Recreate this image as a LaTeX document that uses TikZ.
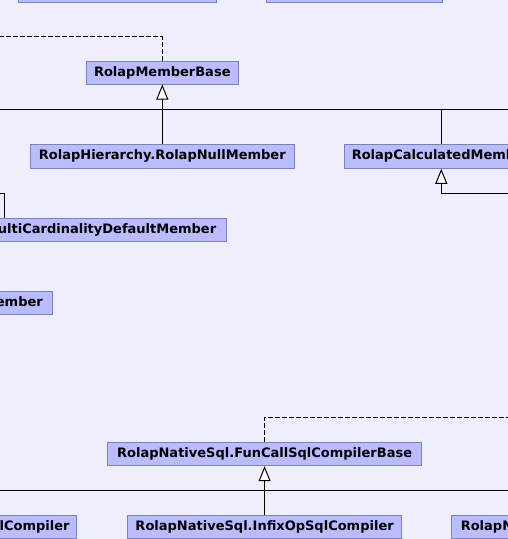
\documentclass[tikz,border=0pt]{standalone}
\usepackage{fontspec}
\setmainfont{DejaVu Sans}
\usetikzlibrary{arrows.meta}
\definecolor{bgc}{RGB}{238,238,252}
\definecolor{boxfill}{RGB}{187,187,255}
\definecolor{boxline}{RGB}{128,128,184}
\begin{document}
\begin{tikzpicture}[x=1pt,y=-1pt,
  cls/.style={draw=boxline, fill=boxfill, line width=1pt, minimum height=23.4pt, inner ysep=0pt,
    font=\fontsize{13}{15}\selectfont\bfseries, text=black},
  inh/.style={-{Triangle[length=15pt,width=12pt,fill=white]}, line width=1pt},
  dep/.style={dash pattern=on 5pt off 2pt, line width=1pt},
  conn/.style={line width=1pt}]
\useasboundingbox (0,0) rectangle (508,539);
\clip (0,0) rectangle (508,539);
\fill[bgc] (0,0) rectangle (508,539);

% top boxes (cut off)
\node[cls, minimum width=198.4pt, minimum height=22.3pt] (top1) at (117.5,-8.85) {};
\node[cls, minimum width=176pt, minimum height=22.3pt] (top2) at (354.7,-8.85) {};

\node[cls, minimum width=152pt, minimum height=23pt] (base) at (162.3,72.5) {RolapMemberBase};
\node[cls, minimum width=264.4pt, minimum height=24pt] (null) at (162.3,156.3) {RolapHierarchy.RolapNullMember};
\node[cls, anchor=west, inner xsep=7.3pt, minimum height=24pt] (calc) at (344,156.3) {RolapCalculatedMember};
\node[cls, anchor=east, inner xsep=10.6pt, minimum height=23pt] (multi) at (227.3,229.8) {MultiCardinalityDefaultMember};
\node[cls, anchor=east, inner xsep=9.4pt, minimum height=23pt] (deleg) at (52.7,302.8) {DelegatingRolapMember};

\node[cls, minimum width=313.4pt] (funcall) at (264.6,454) {RolapNativeSql.FunCallSqlCompilerBase};
\node[cls, anchor=east, inner xsep=7.3pt] (iif) at (77.3,527) {RolapNativeSql.IifSqlCompiler};
\node[cls, minimum width=274.4pt] (infix) at (264.6,527) {RolapNativeSql.InfixOpSqlCompiler};
\node[cls, anchor=west, inner xsep=9pt] (isempty) at (451.3,527) {RolapNativeSql.IsEmptySqlCompiler};

% upper hierarchy
\coordinate (d1) at (0,36.7);
\draw[dep] (base.north) |- (d1);
\coordinate (h1L) at (0,109);
\coordinate (h1R) at (508,109);
\coordinate (j1) at (162.3,109);
\coordinate (j2) at (441.3,109);
\draw[conn] (h1L) -- (h1R);
\draw[inh] (j1) -- (base.south);
\draw[conn] (null.north) -- (j1);
\draw[conn] (j2) -- (j2 |- calc.north);
\coordinate (j3) at (441.3,193.3);
\coordinate (e3) at (508,193.3);
\draw[inh] (j3) -- (j3 |- calc.south);
\draw[conn] (j3) -- (e3);
\coordinate (j4) at (4.3,193.3);
\coordinate (e4) at (0,193.3);
\draw[conn] (j4 |- multi.north) -- (j4) -- (e4);

% lower hierarchy
\coordinate (d2) at (508,417.3);
\draw[dep] (funcall.north) |- (d2);
\coordinate (h2L) at (0,490.3);
\coordinate (h2R) at (508,490.3);
\coordinate (j5) at (264.6,490.3);
\draw[conn] (h2L) -- (h2R);
\draw[inh] (j5) -- (funcall.south);
\draw[conn] (infix.north) -- (j5);
\end{tikzpicture}
\end{document}
